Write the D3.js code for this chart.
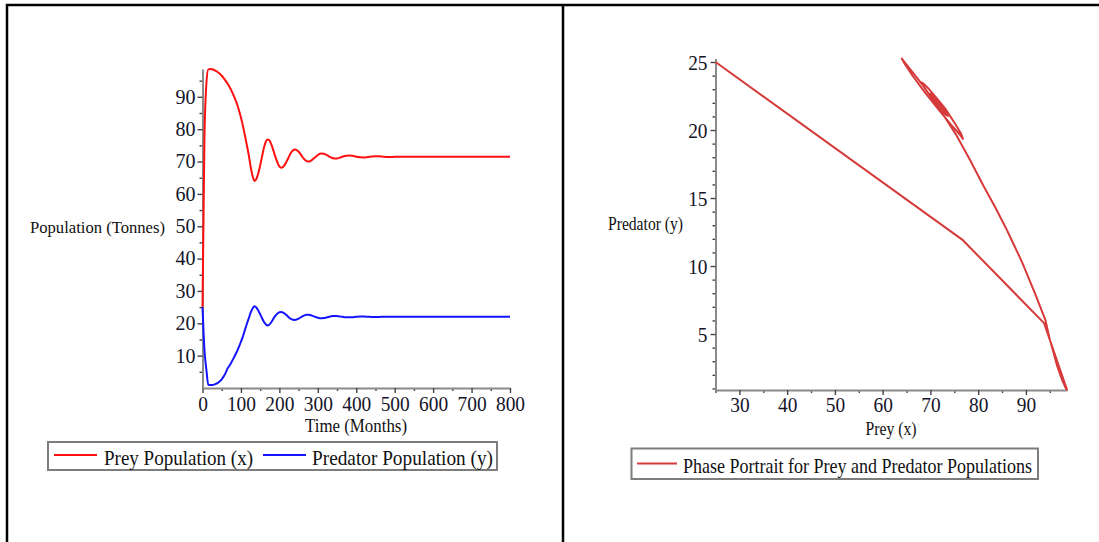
<!DOCTYPE html>
<html>
<head>
<meta charset="utf-8">
<script src="https://cdn.jsdelivr.net/npm/d3@7"></script>
<style>
body { margin: 0; background: #fff; }
text { font-family: "Liberation Serif", "Times New Roman", serif; }
</style>
</head>
<body>
<svg id="chart" width="1099" height="542"></svg>
<script>
// time samples (months) and the two populations
var months = [
	0, 5, 10, 15, 20, 25, 30, 35, 40, 45,
	50, 55, 60, 65, 70, 75, 80, 85, 90, 95,
	100, 105, 110, 115, 120, 125, 130, 135, 140, 145,
	150, 155, 160, 165, 170, 175, 180, 185, 190, 195,
	200, 205, 210, 215, 220, 225, 230, 235, 240, 245,
	250, 255, 260, 265, 270, 275, 280, 285, 290, 295,
	300, 305, 310, 315, 320, 325, 330, 335, 340, 345,
	350,
	360, 370, 380, 390, 400, 410, 420, 430, 440, 450,
	460, 470, 480, 490, 500,
	550, 600, 650, 700, 750, 800];

var prey = [
	25, 76.8, 93.8, 98.5, 98.6, 98.5, 98.3, 98.0, 97.6, 97.1,
	96.5, 95.8, 95.0, 94.1, 93.1, 92.0, 90.7, 89.3, 87.7, 85.8,
	83.6, 81.1, 78.3, 75.3, 72.2, 68.6, 65.7, 64.0, 64.6, 66.3,
	68.8, 71.6, 74.3, 76.2, 76.8, 76.4, 75.0, 73.2, 71.3, 69.7,
	68.5, 68.1, 68.4, 69.2, 70.3, 71.5, 72.7, 73.4, 73.7, 73.5,
	73.0, 72.3, 71.4, 70.7, 70.2, 70.0, 70.1, 70.5, 71.0, 71.5,
	72.0, 72.4, 72.5, 72.4, 72.2, 71.9, 71.5, 71.2, 71.0, 70.9,
	70.95,
	71.3, 71.7, 71.9, 71.8, 71.5, 71.3, 71.27, 71.4, 71.57, 71.65,
	71.6, 71.5, 71.41, 71.41, 71.46,
	71.5, 71.5, 71.5, 71.5, 71.5, 71.5];

var predator = [
	25, 11.9, 5.8, 1.0, 0.9, 0.95, 1.05, 1.3, 1.6, 2.1,
	2.7, 3.6, 4.6, 6.0, 6.9, 7.9, 9.0, 10.2, 11.4, 12.8,
	14.3, 15.9, 17.8, 19.7, 21.4, 23.2, 24.5, 25.25, 24.87, 23.97,
	22.79, 21.56, 20.4, 19.65, 19.35, 19.75, 20.55, 21.53, 22.35, 23.01,
	23.43, 23.50, 23.29, 22.88, 22.36, 21.81, 21.34, 21.09, 21.04, 21.17,
	21.43, 21.78, 22.16, 22.44, 22.63, 22.67, 22.58, 22.38, 22.15, 21.92,
	21.71, 21.58, 21.56, 21.62, 21.73, 21.88, 22.05, 22.17, 22.25, 22.27,
	22.22,
	22.06, 21.89, 21.83, 21.89, 22.02, 22.10, 22.09, 22.03, 21.96, 21.94,
	21.96, 22.01, 22.04, 22.04, 22.02,
	22.0, 22.0, 22.0, 22.0, 22.0, 22.0];

// tick values
var timeTicks = [0, 100, 200, 300, 400, 500, 600, 700, 800];
var timeMinor = [50, 150, 250, 350, 450, 550, 650, 750];
var popTicks = [10, 20, 30, 40, 50, 60, 70, 80, 90];
var popMinor = [5, 15, 25, 35, 45, 55, 65, 75, 85, 95];
var preyTicks = [30, 40, 50, 60, 70, 80, 90];
var preyMinor = [25, 35, 45, 55, 65, 75, 85, 95];
var predTicks = [5, 10, 15, 20, 25];
var predMinor = [1, 2, 3, 4, 6, 7, 8, 9, 11, 12, 13, 14, 16, 17, 18, 19, 21, 22, 23, 24];

var seriesNames = ['Prey Population (x)', 'Predator Population (y)'];
var phaseName = 'Phase Portrait for Prey and Predator Populations';

var svg = d3.select('#chart');
var serif = '"Liberation Serif", "Times New Roman", serif';

// squeeze text horizontally, the original is narrow
function squeeze(sel, k){
	sel.each(function(){
		var w = this.getComputedTextLength();
		this.setAttribute('textLength', w * k);
		this.setAttribute('lengthAdjust', 'spacingAndGlyphs');
	});
}
function fitTo(sel, w){
	sel.attr('textLength', w).attr('lengthAdjust', 'spacingAndGlyphs');
}

function styleAxis(g, size, k){
	g.attr('font-family', serif).attr('font-size', size);
	g.select('.domain').attr('stroke', '#8a8a8a').attr('stroke-width', 2);
	g.selectAll('.tick line').attr('stroke', '#444').attr('stroke-width', 1.4);
	g.selectAll('.tick text').attr('fill', '#141428');
	squeeze(g.selectAll('.tick text'), k);
}
function minorAxis(g){
	g.select('.domain').remove();
	g.selectAll('.tick line').attr('stroke', '#444').attr('stroke-width', 1.4);
}

// frame
svg.append('path')
	.attr('d', 'M7,542V5H1099')
	.attr('fill', 'none').attr('stroke', '#000').attr('stroke-width', 2.5);
svg.append('line')
	.attr('x1', 563).attr('x2', 563).attr('y1', 5).attr('y2', 542)
	.attr('stroke', '#000').attr('stroke-width', 2.5);

// ---------- left: populations over time ----------
var x1 = d3.scaleLinear().domain([0, 800]).range([202.5, 510]);
var y1 = d3.scaleLinear().domain([0, 98.6]).range([388, 69]);

svg.append('g').attr('transform', 'translate(0,388)')
	.call(d3.axisBottom(x1).tickValues(timeMinor).tickSize(3).tickFormat(''))
	.call(minorAxis);
svg.append('g').attr('transform', 'translate(202.5,0)')
	.call(d3.axisLeft(y1).tickValues(popMinor.filter(function(v){ return v < 98.6; })).tickSize(3).tickFormat(''))
	.call(minorAxis);
svg.append('g').attr('transform', 'translate(0,388)')
	.call(d3.axisBottom(x1).tickValues(timeTicks).tickSize(5).tickSizeOuter(0).tickPadding(3.5))
	.call(styleAxis, 20, 0.97);
svg.append('g').attr('transform', 'translate(202.5,0)')
	.call(d3.axisLeft(y1).tickValues(popTicks).tickSize(5).tickSizeOuter(0).tickPadding(2))
	.call(styleAxis, 20, 1);

var line1 = d3.line()
	.x(function(d, i){ return x1(months[i]); })
	.curve(d3.curveMonotoneX);

svg.append('path').datum(prey)
	.attr('d', line1.y(function(d){ return y1(d); }))
	.attr('fill', 'none').attr('stroke', '#ff1010').attr('stroke-width', 2);
svg.append('path').datum(predator)
	.attr('d', line1.y(function(d){ return y1(d); }))
	.attr('fill', 'none').attr('stroke', '#1414ff').attr('stroke-width', 2);

svg.append('text').text('Population (Tonnes)')
	.attr('x', 30).attr('y', 233).attr('font-size', 16).attr('fill', '#111')
	.call(fitTo, 135);
svg.append('text').text('Time (Months)')
	.attr('x', 356).attr('y', 431.5).attr('text-anchor', 'middle').attr('font-size', 18).attr('fill', '#111')
	.call(fitTo, 102);

// legend left
var leg1 = svg.append('g');
leg1.append('rect').attr('x', 48).attr('y', 442).attr('width', 449).attr('height', 28)
	.attr('fill', '#fff').attr('stroke', '#7d7d7d').attr('stroke-width', 2);
var legColors = ['#ff1010', '#1414ff'];
var legSample = [54, 263];
var legText = [104, 312];
var legWidth = [149, 181];
seriesNames.forEach(function(name, i){
	leg1.append('line').attr('x1', legSample[i]).attr('x2', legSample[i] + 43)
		.attr('y1', 455).attr('y2', 455)
		.attr('stroke', legColors[i]).attr('stroke-width', 2);
	leg1.append('text').text(name)
		.attr('x', legText[i]).attr('y', 464.5).attr('font-size', 22).attr('fill', '#111')
		.call(fitTo, legWidth[i]);
});

// ---------- right: phase portrait ----------
var x2 = d3.scaleLinear().domain([25, 98.6]).range([715.5, 1067]);
var y2 = d3.scaleLinear().domain([0.9, 25.25]).range([389.8, 58.6]);

svg.append('g').attr('transform', 'translate(0,390)')
	.call(d3.axisBottom(x2).tickValues(preyMinor.filter(function(v){ return v < 98.6; })).tickSize(3).tickFormat(''))
	.call(minorAxis);
svg.append('g').attr('transform', 'translate(715.5,0)')
	.call(d3.axisLeft(y2).tickValues(predMinor).tickSize(3).tickFormat(''))
	.call(minorAxis);
svg.append('g').attr('transform', 'translate(0,390)')
	.call(d3.axisBottom(x2).tickValues(preyTicks).tickSize(5).tickSizeOuter(0).tickPadding(1))
	.call(styleAxis, 22, 0.88);
svg.append('g').attr('transform', 'translate(715.5,0)')
	.call(d3.axisLeft(y2).tickValues(predTicks).tickSize(5).tickSizeOuter(0).tickPadding(3))
	.call(styleAxis, 22, 0.88);

var phase = d3.line()
	.x(function(d, i){ return x2(prey[i]); })
	.y(function(d, i){ return y2(predator[i]); });

svg.append('path').datum(months)
	.attr('d', phase)
	.attr('fill', 'none').attr('stroke', '#d63a3a').attr('stroke-width', 2)
	.attr('stroke-linejoin', 'round');

svg.append('text').text('Predator (y)')
	.attr('x', 608).attr('y', 230).attr('font-size', 18).attr('fill', '#111')
	.call(fitTo, 75);
svg.append('text').text('Prey (x)')
	.attr('x', 891).attr('y', 435).attr('text-anchor', 'middle').attr('font-size', 18).attr('fill', '#111')
	.call(fitTo, 51);

// legend right
var leg2 = svg.append('g');
leg2.append('rect').attr('x', 631.5).attr('y', 448.5).attr('width', 406.5).attr('height', 30.5)
	.attr('fill', '#fff').attr('stroke', '#7d7d7d').attr('stroke-width', 2);
leg2.append('line').attr('x1', 637).attr('x2', 677).attr('y1', 463.5).attr('y2', 463.5)
	.attr('stroke', '#d63a3a').attr('stroke-width', 2);
leg2.append('text').text(phaseName)
	.attr('x', 683).attr('y', 473).attr('font-size', 21).attr('fill', '#111')
	.call(fitTo, 349);
</script>
</body>
</html>
